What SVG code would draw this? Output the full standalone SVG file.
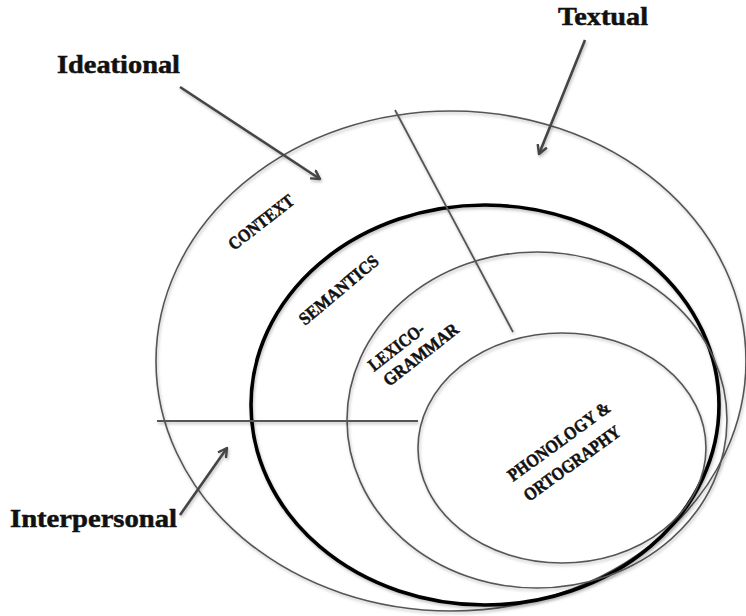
<svg xmlns="http://www.w3.org/2000/svg" width="746" height="616" viewBox="0 0 746 616">
<style>
.thin{fill:none;stroke:#555;stroke-width:1.6}
.thick{fill:none;stroke:#000;stroke-width:3.6}
.div{fill:none;stroke:#555;stroke-width:1.8}
.arr{fill:none;stroke:#444;stroke-width:2.6;marker-end:url(#ah)}
.lbl{font-family:"Liberation Serif",serif;font-weight:bold;font-size:25px;fill:#111;stroke:#111;stroke-width:0.5}
.in{font-family:"Liberation Serif",serif;font-weight:bold;font-size:18px;fill:#111;stroke:#111;stroke-width:0.5}
</style>
<defs>
<filter id="sh" x="-10%" y="-10%" width="120%" height="120%">
<feDropShadow dx="1" dy="2" stdDeviation="1.5" flood-color="#000" flood-opacity="0.25"/>
</filter>
<marker id="ah" markerWidth="12" markerHeight="12" refX="9" refY="5" orient="auto" markerUnits="userSpaceOnUse" viewBox="0 0 12 10">
<path d="M1,0.5 L9,5 L1,9.5" fill="none" stroke="#444" stroke-width="2.4" stroke-linecap="round" stroke-linejoin="round"/>
</marker>
</defs>
<rect width="746" height="616" fill="#fff"/>
<g id="context" filter="url(#sh)">
<ellipse class="thin" cx="451" cy="361" rx="295" ry="250"/>
</g>
<g id="semantics" filter="url(#sh)">
<ellipse class="thick" cx="485" cy="405" rx="234" ry="200"/>
</g>
<g id="lexicogrammar" filter="url(#sh)">
<ellipse class="thin" cx="537" cy="420" rx="190" ry="168"/>
</g>
<g id="phonology" filter="url(#sh)">
<ellipse class="thin" cx="562" cy="448" rx="144" ry="115"/>
</g>
<g id="dividers" filter="url(#sh)">
<line class="div" x1="157" y1="421" x2="418" y2="421"/>
<line class="div" x1="395" y1="110" x2="513" y2="332"/>
</g>
<g id="connectors" filter="url(#sh)">
<line class="arr" x1="180" y1="87" x2="320" y2="179"/>
<line class="arr" x1="585" y1="40" x2="539" y2="154"/>
<line class="arr" x1="180" y1="515" x2="227" y2="448"/>
</g>
<g id="labels">
<text class="lbl" x="57" y="73" textLength="123" lengthAdjust="spacingAndGlyphs">Ideational</text>
<text class="lbl" x="558" y="25" textLength="90" lengthAdjust="spacingAndGlyphs">Textual</text>
<text class="lbl" x="10" y="527" textLength="167" lengthAdjust="spacingAndGlyphs">Interpersonal</text>
</g>
<g id="inner-labels">
<text class="in" transform="translate(234,251) rotate(-38)" textLength="78" lengthAdjust="spacingAndGlyphs">CONTEXT</text>
<text class="in" transform="translate(305,326) rotate(-40)" textLength="98" lengthAdjust="spacingAndGlyphs">SEMANTICS</text>
<text class="in" transform="translate(374,372) rotate(-38)" textLength="66" lengthAdjust="spacingAndGlyphs">LEXICO-</text>
<text class="in" transform="translate(389,387) rotate(-38)" textLength="90" lengthAdjust="spacingAndGlyphs">GRAMMAR</text>
<text class="in" transform="translate(513,482) rotate(-36)" textLength="122" lengthAdjust="spacingAndGlyphs">PHONOLOGY &amp;</text>
<text class="in" transform="translate(529,502) rotate(-36)" textLength="115" lengthAdjust="spacingAndGlyphs">ORTOGRAPHY</text>
</g>
</svg>
